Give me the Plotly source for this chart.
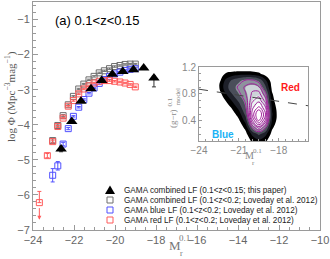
import plotly.graph_objects as go

# ---------------- data ----------------
# GAMA combined LF, 0.1<z<0.15 (this paper)
tri_mag = [-22.63, -22.11, -21.66, -21.17, -20.65, -20.13, -19.62, -19.10, -18.60, -18.10]
tri_phi = [-4.69, -3.91, -3.33, -2.97, -2.74, -2.56, -2.48, -2.43, -2.38, -2.67]
tri_err_hi = [0.08, 0.04, 0.03, 0.02, 0.02, 0.02, 0.02, 0.02, 0.04, 0.06]
tri_err_lo = [0.08, 0.04, 0.03, 0.02, 0.02, 0.02, 0.02, 0.02, 0.04, 0.25]

# Loveday et al. 2012, combined
gray_mag = [-23.04, -22.79, -22.53, -22.28, -22.03, -21.77, -21.52, -21.27, -21.02,
            -20.77, -20.52, -20.27, -20.02, -19.76, -19.51, -19.26, -19.01]
gray_phi = [-4.45, -4.02, -3.74, -3.43, -3.19, -2.98, -2.84, -2.72, -2.62,
            -2.52, -2.46, -2.40, -2.34, -2.31, -2.28, -2.27, -2.27]
gray_err = [0.05, 0.04, 0.03, 0.02, 0.02, 0.02, 0.02, 0.02, 0.02,
            0.02, 0.02, 0.02, 0.02, 0.02, 0.02, 0.02, 0.02]

# Loveday et al. 2012, blue
blue_mag = [-23.04, -22.79, -22.53, -22.28, -22.03, -21.77, -21.52, -21.27, -21.02,
            -20.77, -20.52, -20.27, -20.02, -19.76, -19.51, -19.26, -19.01]
blue_phi = [-5.44, -5.17, -4.55, -4.11, -3.76, -3.50, -3.28, -3.10, -2.95,
            -2.82, -2.71, -2.62, -2.55, -2.50, -2.45, -2.42, -2.40]
blue_err = [0.19, 0.12, 0.05, 0.03, 0.02, 0.02, 0.02, 0.02, 0.02,
            0.02, 0.02, 0.02, 0.02, 0.02, 0.02, 0.02, 0.02]

# Loveday et al. 2012, red
red_mag = [-23.69, -23.30, -23.04, -22.79, -22.53, -22.28, -22.03, -21.77, -21.52, -21.27,
           -21.02, -20.77, -20.52, -20.27, -20.02, -19.76, -19.51, -19.26, -19.01]
red_phi = [-6.22, -4.88, -4.48, -4.05, -3.81, -3.47, -3.31, -3.12, -2.98, -2.89,
           -2.81, -2.76, -2.74, -2.74, -2.76, -2.78, -2.81, -2.85, -2.92]
red_err_hi = [0.32, 0.06, 0.04, 0.03, 0.02, 0.02, 0.02, 0.02, 0.02, 0.02,
              0.02, 0.02, 0.02, 0.02, 0.02, 0.02, 0.02, 0.02, 0.02]
red_err_lo = [0.0, 0.06, 0.04, 0.03, 0.02, 0.02, 0.02, 0.02, 0.02, 0.02,
              0.02, 0.02, 0.02, 0.02, 0.02, 0.02, 0.02, 0.02, 0.02]
red_limit_lo = 0.49  # downward arrow length of faintest red point

# inset: colour-magnitude density (hand-read grid)
cm_mag = [-23.0, -22.5, -22.0, -21.5, -21.0, -20.5, -20.0, -19.5, -19.0, -18.5, -18.0, -17.5]
cm_col = [0.1, 0.2, 0.3, 0.4, 0.5, 0.6, 0.7, 0.8, 0.9, 1.0, 1.1, 1.2]
cm_dens = [
    [0, 0, 0, 0, 0, 0.2, 1.2, 1.7, 1.2, 0.2, 0, 0],
    [0, 0, 0, 0, 0, 0.6, 2.2, 3.2, 2.3, 0.6, 0, 0],
    [0, 0, 0, 0, 0.3, 1.3, 4.2, 5.8, 4.2, 1.2, 0.2, 0],
    [0, 0, 0, 0.2, 0.8, 2.4, 6.0, 8.2, 6.0, 1.9, 0.4, 0],
    [0, 0, 0, 0.5, 1.5, 3.3, 7.0, 9.0, 6.8, 2.1, 0.5, 0],
    [0, 0, 0.3, 1.2, 2.4, 4.0, 6.6, 7.6, 6.2, 1.8, 0.4, 0],
    [0, 0, 1.0, 2.1, 3.2, 4.4, 6.0, 6.6, 5.2, 1.4, 0.2, 0],
    [0, 0.4, 1.9, 3.0, 4.0, 4.8, 5.6, 5.8, 4.4, 1.1, 0.1, 0],
    [0, 0.9, 2.6, 3.6, 4.4, 5.0, 5.3, 5.0, 3.2, 0.7, 0, 0],
    [0, 0.6, 2.2, 3.2, 3.8, 4.3, 4.4, 3.8, 2.2, 0.4, 0, 0],
    [0, 0.2, 1.1, 1.4, 1.6, 1.6, 1.5, 1.2, 0.5, 0, 0, 0],
    [0, 0, 0, 0, 0, 0, 0, 0, 0, 0, 0, 0],
]
cut_mag = [-24.0, -15.8]
cut_col = [0.87, 0.624]

legend_labels = [
    "GAMA combined LF (0.1&lt;z&lt;0.15; this paper)",
    "GAMA combined LF (0.1&lt;z&lt;0.2; Loveday et al. 2012)",
    "GAMA blue LF (0.1&lt;z&lt;0.2; Loveday et al. 2012)",
    "GAMA red LF (0.1&lt;z&lt;0.2; Loveday et al. 2012)",
]

# ---------------- styling ----------------
W, H = 330, 259
L, R, T, B = 33, 10, 2, 29
PW, PH = W - L - R, H - T - B


def px(x):
    return (x - L) / PW


def py(y):
    return (H - B - y) / PH


GRAY = "#6e6e6e"
BLUE = "#5050ff"
RED = "#ff5a5a"
AX = "#9a9a9a"
LAB = "#666666"
SANS = "Liberation Sans, Arial, sans-serif"
SERIF = "Liberation Serif, Times New Roman, serif"

fig = go.Figure()

fig.add_trace(go.Scatter(
    x=gray_mag, y=gray_phi, mode="markers",
    marker=dict(symbol="square-open", size=6, color=GRAY, line=dict(width=1)),
    error_y=dict(type="data", array=gray_err, color=GRAY, thickness=1, width=2),
))
fig.add_trace(go.Scatter(
    x=blue_mag, y=blue_phi, mode="markers",
    marker=dict(symbol="square-open", size=6, color=BLUE, line=dict(width=1)),
    error_y=dict(type="data", array=blue_err, color=BLUE, thickness=1, width=2),
))
fig.add_trace(go.Scatter(
    x=red_mag, y=red_phi, mode="markers",
    marker=dict(symbol="square-open", size=6, color=RED, line=dict(width=1)),
    error_y=dict(type="data", symmetric=False, array=red_err_hi, arrayminus=red_err_lo,
                 color=RED, thickness=1, width=2),
))
fig.add_trace(go.Scatter(
    x=tri_mag, y=tri_phi, mode="markers",
    marker=dict(symbol="triangle-up", size=10, color="black"),
    error_y=dict(type="data", symmetric=False, array=tri_err_hi, arrayminus=tri_err_lo,
                 color="#333333", thickness=1, width=2),
))

# arrow for the faint red upper limit
fig.add_annotation(x=red_mag[0], y=red_phi[0] - red_limit_lo, ax=red_mag[0], ay=red_phi[0],
                   xref="x", yref="y", axref="x", ayref="y", text="", showarrow=True,
                   arrowhead=2, arrowsize=0.8, arrowwidth=1, arrowcolor=RED, standoff=0,
                   startstandoff=4)

# ---------------- inset ----------------
fig.add_trace(go.Scatter(
    x=cut_mag, y=cut_col, mode="lines", xaxis="x2", yaxis="y2",
    line=dict(color="#444444", width=1, dash="dash"),
))
fill_scale = [
    [0.0, "rgba(255,255,255,0)"],
    [0.125, "#000000"],
    [0.25, "#1e2029"],
    [0.375, "#4a4e5a"],
    [0.5, "#8d929d"],
    [0.625, "#cdd3d8"],
    [0.75, "#ecf3f3"],
    [0.875, "#ffffff"],
    [1.0, "#ffffff"],
]
fig.add_trace(go.Contour(
    x=cm_mag, y=cm_col, z=cm_dens, xaxis="x2", yaxis="y2",
    contours=dict(start=1, end=8, size=1, coloring="fill"),
    colorscale=fill_scale, showscale=False, line=dict(width=0, smoothing=1.3),
    hoverinfo="skip",
))
fig.add_trace(go.Contour(
    x=cm_mag, y=cm_col, z=cm_dens, xaxis="x2", yaxis="y2",
    contours=dict(start=4.2, end=8.7, size=0.65, coloring="none"),
    line=dict(color="#a0209a", width=1, smoothing=1.3), showscale=False,
    hoverinfo="skip",
))

# ---------------- axes ----------------
fig.update_layout(
    width=W, height=H,
    margin=dict(l=L, r=R, t=T, b=B, autoexpand=False),
    paper_bgcolor="white", plot_bgcolor="white",
    showlegend=False,
    xaxis=dict(range=[-24, -10], tickvals=[-24, -22, -20, -18, -16, -14, -12, -10],
               ticks="inside", ticklen=5, tickcolor=AX, showline=True, linecolor=AX,
               mirror=True, showgrid=False, zeroline=False, automargin=False,
               minor=dict(dtick=0.5, ticks="inside", ticklen=3, tickcolor=AX),
               tickfont=dict(family=SANS, size=11, color=LAB)),
    yaxis=dict(range=[-7, -0.5], tickvals=[-7, -6, -5, -4, -3, -2, -1],
               ticks="inside", ticklen=5, tickcolor=AX, showline=True, linecolor=AX,
               mirror=True, showgrid=False, zeroline=False, automargin=False,
               minor=dict(dtick=0.2, ticks="inside", ticklen=3, tickcolor=AX),
               tickfont=dict(family=SANS, size=11, color=LAB)),
    xaxis2=dict(domain=[px(199), px(308)], anchor="y2", range=[-24, -15.8],
                tickvals=[-24, -21, -18], ticks="inside", ticklen=3, tickcolor=AX,
                showline=True, linecolor=AX, mirror=True, showgrid=False, zeroline=False,
                automargin=False,
                minor=dict(dtick=0.5, ticks="inside", ticklen=2, tickcolor=AX),
                tickfont=dict(family=SANS, size=10, color="#888888")),
    yaxis2=dict(domain=[py(141), py(67)], anchor="x2", range=[0.1, 1.2],
                tickvals=[0.4, 0.8, 1.2], ticks="inside", ticklen=3, tickcolor=AX,
                showline=True, linecolor=AX, mirror=True, showgrid=False, zeroline=False,
                automargin=False,
                minor=dict(dtick=0.1, ticks="inside", ticklen=2, tickcolor=AX),
                tickfont=dict(family=SANS, size=10, color="#888888")),
)

ann = []
# panel label
ann.append(dict(x=px(53), y=py(20), text="(a) 0.1&lt;z&lt;0.15", xanchor="left",
                yanchor="middle", font=dict(family=SANS, size=13, color="black")))
# y axis title
ann.append(dict(x=px(11), y=py(97), text="log Φ (Mpc<sup>−3</sup>mag<sup>−1</sup>)",
                textangle=-90, xanchor="center", yanchor="middle",
                font=dict(family=SERIF, size=11, color="#555555")))
# x axis title (stacked super/subscript)
ann.append(dict(x=px(175), y=py(245.5), text="M", xanchor="center", yanchor="middle",
                font=dict(family=SERIF, size=13, color="#777777")))
ann.append(dict(x=px(184), y=py(237.5), text="0.1", xanchor="center", yanchor="middle",
                font=dict(family=SERIF, size=9, color="#777777")))
ann.append(dict(x=px(181), y=py(253), text="r", xanchor="center", yanchor="middle",
                font=dict(family=SERIF, size=8, color="#777777")))
# inset x title
ann.append(dict(x=px(249), y=py(155.5), text="M", xanchor="center", yanchor="middle",
                font=dict(family=SERIF, size=10, color="#888888")))
ann.append(dict(x=px(257), y=py(151), text="0.1", xanchor="center", yanchor="middle",
                font=dict(family=SERIF, size=7, color="#888888")))
ann.append(dict(x=px(253), y=py(163), text="r", xanchor="center", yanchor="middle",
                font=dict(family=SERIF, size=7, color="#888888")))
# inset y title
ann.append(dict(x=px(173), y=py(119), text="(g−r)", textangle=-90, xanchor="center",
                yanchor="middle", font=dict(family=SERIF, size=9, color="#888888")))
ann.append(dict(x=px(169.5), y=py(102), text="0.1", textangle=-90, xanchor="center",
                yanchor="middle", font=dict(family=SERIF, size=7, color="#888888")))
ann.append(dict(x=px(177.5), y=py(97), text="model", textangle=-90, xanchor="center",
                yanchor="middle", font=dict(family=SERIF, size=7, color="#888888")))
# Red / Blue labels
ann.append(dict(x=px(290.5), y=py(87.5), text="<b>Red</b>", xanchor="center",
                yanchor="middle", font=dict(family=SANS, size=10, color="#ff1a1a")))
ann.append(dict(x=px(223), y=py(134), text="<b>Blue</b>", xanchor="center",
                yanchor="middle", font=dict(family=SANS, size=10, color="#1ab2f5")))
# legend texts
rows = [190, 200, 210, 220]
for lab, r in zip(legend_labels, rows):
    ann.append(dict(x=px(122), y=py(r), text=lab, xanchor="left", yanchor="middle",
                    font=dict(family=SANS, size=8.2, color="#222222")))
for a in ann:
    a.setdefault("xref", "paper")
    a.setdefault("yref", "paper")
    a.setdefault("showarrow", False)
    fig.add_annotation(**a)

# legend keys
shapes = []
cx, r0 = 110, rows[0]
shapes.append(dict(type="path", xref="paper", yref="paper",
                   path=f"M {px(cx-5)} {py(r0+4)} L {px(cx+5)} {py(r0+4)} L {px(cx)} {py(r0-4.5)} Z",
                   fillcolor="black", line=dict(width=0)))
for col, r in zip([GRAY, BLUE, RED], rows[1:]):
    shapes.append(dict(type="rect", xref="paper", yref="paper",
                       x0=px(cx-3), x1=px(cx+3), y0=py(r+3), y1=py(r-3),
                       line=dict(color=col, width=1), fillcolor="rgba(0,0,0,0)"))
fig.update_layout(shapes=shapes)

# remove the browser's default 8px page margin so the figure sits at the window origin
fig.write_html("out.html", config={"displayModeBar": False},
               post_script="document.body.style.margin='0px';")
